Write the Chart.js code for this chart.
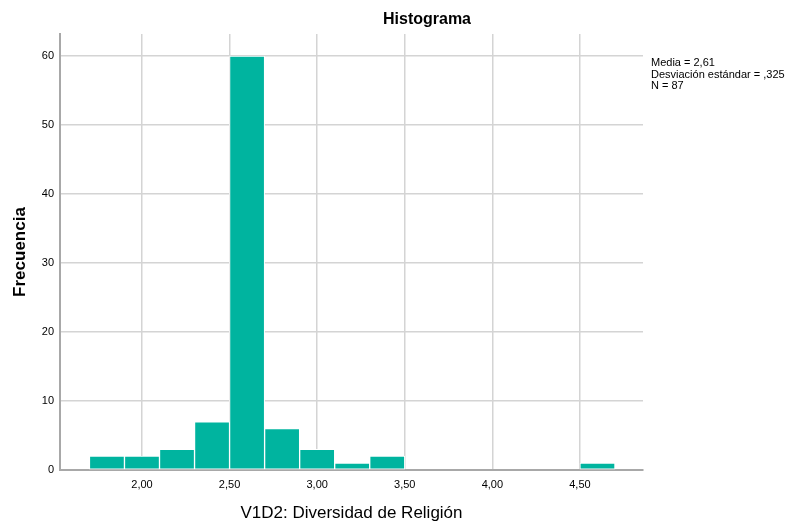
<!DOCTYPE html>
<html>
<head>
<meta charset="utf-8">
<title>Histograma</title>
<script src="https://cdn.jsdelivr.net/npm/chart.js@4/dist/chart.umd.min.js"></script>
<style>
  html, body { margin: 0; padding: 0; background: #ffffff; }
  #wrap { width: 788px; height: 525px; position: relative; }
</style>
</head>
<body>
<div id="wrap"><canvas id="histChart"></canvas></div>
<script>
// bin centres (width 0,2) and counts
var binCenters = [1.8, 2.0, 2.2, 2.4, 2.6, 2.8, 3.0, 3.2, 3.4, 3.6, 3.8, 4.0, 4.2, 4.4, 4.6];
var counts = [2, 2, 3, 7, 60, 6, 3, 1, 2, 0, 0, 0, 0, 0, 1];
var xTicks = [2.0, 2.5, 3.0, 3.5, 4.0, 4.5];
var yTicks = [0, 10, 20, 30, 40, 50, 60];
var statLines = ["Media = 2,61", "Desviación estándar = ,325", "N = 87"];

var FONT = "'Liberation Sans', Arial, sans-serif";

// title and the stats box on the right
var extraText = {
     id: 'extraText',
     afterDraw: function (chart) {
          var ctx = chart.ctx;
          ctx.save();
          ctx.fillStyle = '#000';
          ctx.font = 'bold 16px ' + FONT;
          ctx.textAlign = 'center';
          ctx.textBaseline = 'middle';
          ctx.fillText('Histograma', 427, 20);
          ctx.font = '11px ' + FONT;
          ctx.textAlign = 'left';
          for (var i = 0; i < statLines.length; i++) {
               ctx.fillText(statLines[i], 651, 63 + i * 11.5);
          }
          ctx.restore();
     }
};

var points = binCenters.map(function (c, i) { return { x: c, y: counts[i] }; });

new Chart(document.getElementById('histChart').getContext('2d'), {
     type: 'bar',
     data: {
          datasets: [{
               data: points,
               backgroundColor: '#00b49f',
               borderColor: '#ffffff',
               borderWidth: 1,
               borderSkipped: false,
               barPercentage: 1,
               categoryPercentage: 1
          }]
     },
     options: {
          responsive: true,
          maintainAspectRatio: false,
          animation: false,
          layout: { padding: { left: 0, right: 145, top: 34, bottom: 0 } },
          plugins: {
               legend: { display: false },
               tooltip: { enabled: false }
          },
          scales: {
               x: {
                    type: 'linear',
                    offset: false,
                    min: 1.532,
                    max: 4.86,
                    afterBuildTicks: function (scale) {
                         scale.ticks = xTicks.map(function (v) { return { value: v }; });
                    },
                    afterFit: function (scale) { scale.height = 55; },
                    ticks: {
                         color: '#000',
                         font: { family: FONT, size: 11 },
                         padding: 8,
                         maxRotation: 0,
                         callback: function (v) { return v.toFixed(2).replace('.', ','); }
                    },
                    grid: { color: '#d4d4d4', lineWidth: 1.5, drawTicks: false, offset: false },
                    border: { color: '#a8a8a8', width: 2 },
                    title: {
                         display: true,
                         text: 'V1D2: Diversidad de Religión',
                         color: '#000',
                         font: { family: FONT, size: 17 },
                         padding: { top: 0, bottom: 1 }
                    }
               },
               y: {
                    min: 0,
                    max: 63.2,
                    afterBuildTicks: function (scale) {
                         scale.ticks = yTicks.map(function (v) { return { value: v }; });
                    },
                    afterFit: function (scale) { scale.width = 60; },
                    ticks: {
                         color: '#000',
                         font: { family: FONT, size: 11 },
                         padding: 6
                    },
                    grid: { color: '#d4d4d4', lineWidth: 1.5, drawTicks: false },
                    border: { color: '#a8a8a8', width: 2 },
                    title: {
                         display: true,
                         text: 'Frecuencia',
                         color: '#000',
                         font: { family: FONT, size: 17, weight: 'bold' },
                         padding: { top: 10, bottom: 0 }
                    }
               }
          }
     },
     plugins: [extraText]
});
</script>
</body>
</html>
